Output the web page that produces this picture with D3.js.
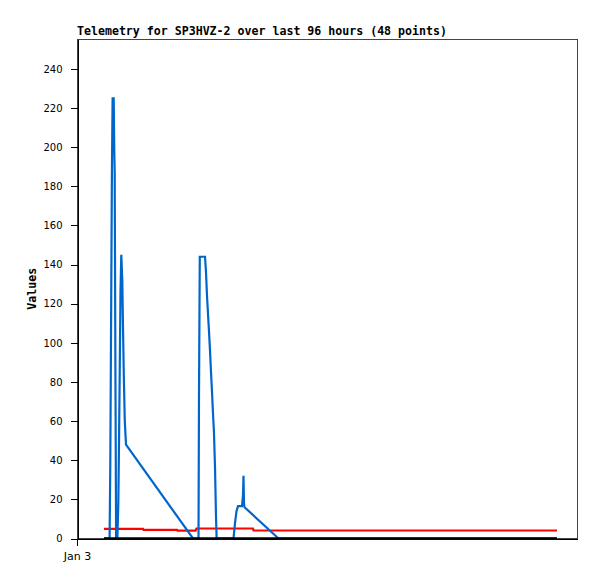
<!DOCTYPE html>
<html>
<head>
<meta charset="utf-8">
<script src="https://cdn.jsdelivr.net/npm/d3@7"></script>
<style>
  html, body { margin: 0; padding: 0; background: #fff; }
  svg { display: block; }
</style>
</head>
<body>
<div id="chart"></div>
<script>
// ---- data (times in hours after Jan 3 00:00) ----
const titleText = "Telemetry for SP3HVZ-2 over last 96 hours (48 points)";
const yLabel = "Values";
const yTicks = [0, 20, 40, 60, 80, 100, 120, 140, 160, 180, 200, 220, 240];
const xTickLabels = ["Jan 3"];

const blueHours = [5.72, 6.91, 7.06, 7.23, 7.40, 7.55, 7.78, 7.89, 7.99, 8.14, 8.29,
  8.56, 8.76, 8.93, 9.07, 9.22, 9.39, 9.60, 9.75, 9.92, 10.13, 10.39,
  24.59, 25.76, 25.86, 26.03, 27.14, 27.35, 27.56, 27.77, 27.98, 28.20, 28.41,
  28.62, 28.83, 29.04, 29.26, 29.47, 29.60,
  33.18, 33.50, 33.81, 34.13, 34.98, 35.19, 35.30, 35.40, 35.51, 42.72, 101.76];
const blueValues = [0, 0, 38, 112, 187, 225, 225, 200, 187, 88, 0,
  0, 18, 54, 88, 126, 145, 132, 108, 84, 60, 48,
  0, 0, 72, 144, 144, 136, 124, 115, 106, 96, 85,
  75, 64, 54, 36, 11, 0,
  0, 8, 14, 16.5, 16.5, 22, 32, 18, 16, 0, 0];

const redHours = [5.72, 13.99, 14.10, 21.20, 21.31, 25.12, 25.33, 37.31, 37.42, 101.76];
const redValues = [4.9, 4.9, 4.4, 4.4, 4.0, 4.0, 5.1, 5.1, 4.1, 4.1];

const blackHours = [5.72, 101.76];
const blackValues = [0, 0];

// ---- layout ----
const W = 597, H = 579;
const mLeft = 77, mRight = 577, mTop = 39, mBottom = 538.5;
const t0 = new Date(2024, 0, 3, 0, 0, 0);
const hourMs = 3600 * 1000;
const toDate = h => new Date(t0.getTime() + h * hourMs);

const svg = d3.select("#chart").append("svg")
  .attr("width", W).attr("height", H);

const x = d3.scaleTime()
  .domain([t0, toDate(106)])
  .range([mLeft, mRight]);
const y = d3.scaleLinear()
  .domain([0, 255.3])
  .range([mBottom, mTop]);

// frame
svg.append("rect")
  .attr("x", mLeft + 0.5).attr("y", mTop + 0.5)
  .attr("width", mRight - mLeft).attr("height", mBottom - mTop - 0.5)
  .attr("fill", "none").attr("stroke", "#444").attr("stroke-width", 1)
  .attr("shape-rendering", "crispEdges");

// y axis
const yAxis = d3.axisLeft(y).tickValues(yTicks).tickSize(7).tickSizeOuter(0).tickPadding(8);
const gy = svg.append("g").attr("transform", `translate(${mLeft + 0.5},0)`).call(yAxis);
gy.select(".domain").attr("stroke", "#000").attr("shape-rendering", "crispEdges");
gy.selectAll(".tick line").attr("stroke", "#000").attr("shape-rendering", "crispEdges");
gy.selectAll(".tick text")
  .attr("font-family", "DejaVu Sans, sans-serif").attr("font-size", "10px").attr("fill", "#000");

// x axis
const xAxis = d3.axisBottom(x).tickValues([t0]).tickSize(7).tickSizeOuter(0).tickPadding(7)
  .tickFormat((d, i) => xTickLabels[i]);
const gx = svg.append("g").attr("transform", `translate(0,${mBottom})`).call(xAxis);
gx.select(".domain").attr("stroke", "#000").attr("shape-rendering", "crispEdges");
gx.selectAll(".tick line").attr("stroke", "#000").attr("shape-rendering", "crispEdges");
gx.selectAll(".tick text")
  .attr("font-family", "DejaVu Sans, sans-serif").attr("font-size", "11px").attr("fill", "#000");

// lines
const line = d3.line().x(d => x(toDate(d[0]))).y(d => y(d[1]));
const series = [
  { hours: redHours, values: redValues, color: "#ff0000", width: 2.2 },
  { hours: blueHours, values: blueValues, color: "#0066cc", width: 2.2 },
  { hours: blackHours, values: blackValues, color: "#000000", width: 2.6 }
];
series.forEach(s => {
  const pts = s.hours.map((h, i) => [h, s.values[i]]);
  svg.append("path")
    .datum(pts)
    .attr("d", line)
    .attr("fill", "none")
    .attr("stroke", s.color)
    .attr("stroke-width", s.width)
    .attr("stroke-linejoin", "miter")
    .attr("stroke-miterlimit", 2);
});

// title
svg.append("text")
  .attr("x", mLeft).attr("y", 35)
  .attr("font-family", "DejaVu Sans Mono, monospace")
  .attr("font-weight", "bold").attr("font-size", "11.6px")
  .attr("fill", "#000")
  .text(titleText);

// y label
svg.append("text")
  .attr("transform", `translate(36,${(mTop + mBottom) / 2}) rotate(-90)`)
  .attr("text-anchor", "middle")
  .attr("font-family", "DejaVu Sans Mono, monospace")
  .attr("font-weight", "bold").attr("font-size", "11.6px")
  .attr("fill", "#000")
  .text(yLabel);
</script>
</body>
</html>
